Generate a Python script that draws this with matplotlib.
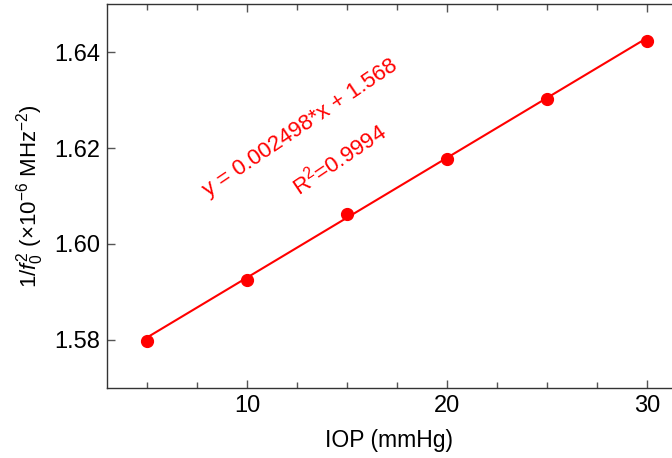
import numpy as np
import matplotlib
matplotlib.use('Agg')
import matplotlib.pyplot as plt
from matplotlib.ticker import MultipleLocator

plt.rcParams['font.family'] = ['Liberation Sans', 'DejaVu Sans']
plt.rcParams['mathtext.fontset'] = 'custom'
plt.rcParams['mathtext.rm'] = 'Liberation Sans'
plt.rcParams['mathtext.it'] = 'Liberation Sans:italic'

# IOP values and measured 1/f0^2
iop = [5, 10, 15, 20, 25, 30]
inv_f2 = [1.5797, 1.5926, 1.6063, 1.6178, 1.6302, 1.6424]

# linear fit as reported on the chart
slope = 0.002498
intercept = 1.568
r2 = 0.9994

fig = plt.figure(figsize=(6.72, 4.58), dpi=100)
ax = fig.add_axes([0.159, 0.153, 0.841, 0.838])

red = '#ff0000'
xfit = np.array([iop[0], iop[-1]])
ax.plot(xfit, slope * xfit + intercept, color=red, linewidth=1.5)
ax.plot(iop, inv_f2, 'o', color=red, markersize=8.5)

ax.text(12.69, 1.6241, f'y = {slope:.6f}*x + {intercept:.3f}', color=red, fontsize=16,
        rotation=34, ha='center', va='center', rotation_mode='anchor')
ax.text(14.6, 1.6176, f'R$^2$={r2:.4f}', color=red, fontsize=16,
        rotation=34, ha='center', va='center', rotation_mode='anchor')

ax.set_xlim(3, 31.25)
ax.set_ylim(1.57, 1.65)
ax.xaxis.set_major_locator(MultipleLocator(10))
ax.xaxis.set_minor_locator(MultipleLocator(2.5))
ax.yaxis.set_major_locator(MultipleLocator(0.02))
ax.yaxis.set_major_formatter(matplotlib.ticker.FormatStrFormatter('%.2f'))

ax.spines['right'].set_visible(False)
for s in ['left', 'bottom', 'top']:
    ax.spines[s].set_color('#333333')
    ax.spines[s].set_linewidth(1.0)

ax.tick_params(axis='both', which='major', direction='in', length=6, width=1,
               color='#555555', labelsize=17, top=True, right=False, pad=5)
ax.tick_params(axis='x', which='minor', direction='in', length=4, width=1,
               color='#555555', top=True)

ax.set_xlabel('IOP (mmHg)', fontsize=16.5, labelpad=9)
ax.set_ylabel(r'1/$f_0^2$ ($\times$10$^{-6}$ MHz$^{-2}$)', fontsize=16, labelpad=6)

fig.savefig('out.png', dpi=100)
